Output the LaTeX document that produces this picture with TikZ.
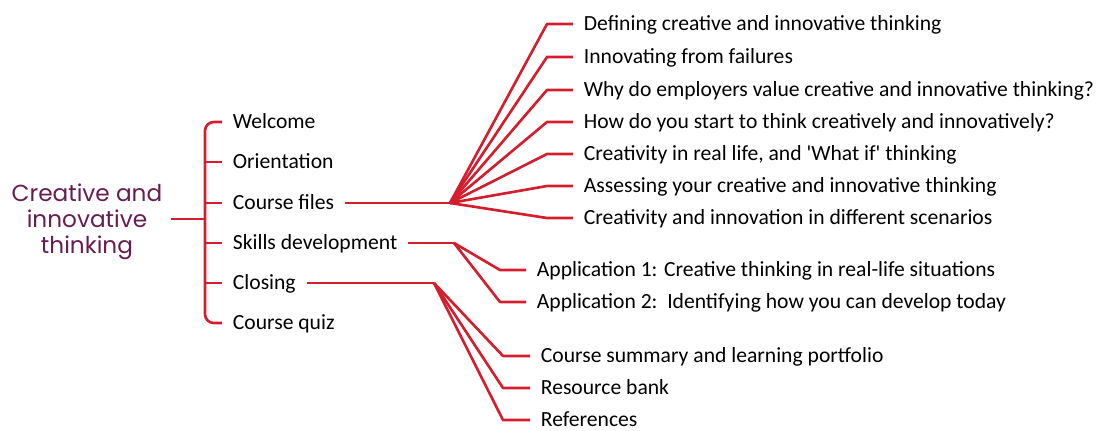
\documentclass[tikz,border=0pt]{standalone}
\usepackage{fontspec}
\setmainfont{Carlito}
\newfontfamily\rootfont{Poppins}
\definecolor{branchred}{RGB}{212,30,45}
\definecolor{rootpurple}{RGB}{104,28,80}
\begin{document}
\begin{tikzpicture}[x=0.02cm, y=-0.02cm]
\tikzstyle{rootnode} = [align=center, text=rootpurple, font=\rootfont\fontsize{13.2}{14.8}\selectfont, inner sep=0pt] % root title
\tikzstyle{item} = [anchor=west, font=\fontsize{12.3}{14}\selectfont, inner xsep=6pt, inner ysep=0pt, text height=1.8ex, text depth=0.25ex] % all labels
\tikzstyle{branch} = [draw=branchred, line width=1.5pt, line join=round] % red connectors
\useasboundingbox (0,0) rectangle (1103,430);
% корень
\node[rootnode] (root) at (87,222) {Creative and\\innovative\\thinking};
% первый уровень
\node[item] (welcome) at (222,122) {Welcome};
\node[item] (orient) at (222,162) {Orientation};
\node[item] (files) at (222,203) {Course files};
\node[item] (skills) at (222,243) {Skills development};
\node[item] (closing) at (222,283) {Closing};
\node[item] (quiz) at (222,323) {Course quiz};
% второй уровень: Course files
\node[item] (f1) at (573,24) {Defining creative and innovative thinking};
\node[item] (f2) at (573,57) {Innovating from failures};
\node[item] (f3) at (573,90) {Why do employers value creative and innovative thinking?};
\node[item] (f4) at (573,122) {How do you start to think creatively and innovatively?};
\node[item] (f5) at (573,154) {Creativity in real life, and \textquotesingle What if\textquotesingle\ thinking};
\node[item] (f6) at (573,186) {Assessing your creative and innovative thinking};
\node[item] (f7) at (573,218) {Creativity and innovation in different scenarios};
% второй уровень: Skills development
\node[item] (s1) at (526,270) {Application 1: Creative thinking in real-life situations};
\node[item] (s2) at (526,302) {Application 2:\ \ Identifying how you can develop today};
% второй уровень: Closing
\node[item] (c1) at (530,356) {Course summary and learning portfolio};
\node[item] (c2) at (530,388) {Resource bank};
\node[item] (c3) at (530,420) {References};
% точки ветвления
\coordinate (bar) at (205,219);
\coordinate (ffan) at (450,203);
\coordinate (sfan) at (454,243);
\coordinate (cfan) at (434,283);
% скобка
\draw[branch] (root.east |- bar) ++(8,0) -- (bar);
\draw[branch, rounded corners=5pt] (welcome.west) -- (welcome.west -| bar) -- (quiz.west -| bar) -- (quiz.west);
\foreach \n in {orient, files, skills, closing}
  \draw[branch] (\n.west -| bar) -- (\n.west);
% веер Course files
\draw[branch] (files.east) -- (ffan);
\foreach \n in {f1,f2,f3,f4,f5,f6,f7}
  \draw[branch] (ffan) -- ([xshift=-26*0.02cm]\n.west) -- (\n.west);
% веер Skills development
\draw[branch] (skills.east) -- (sfan);
\foreach \n in {s1,s2}
  \draw[branch] (sfan) -- ([xshift=-26*0.02cm]\n.west) -- (\n.west);
% веер Closing
\draw[branch] (closing.east) -- (cfan);
\foreach \n in {c1,c2,c3}
  \draw[branch] (cfan) -- ([xshift=-27*0.02cm]\n.west) -- (\n.west);
\end{tikzpicture}
\end{document}
